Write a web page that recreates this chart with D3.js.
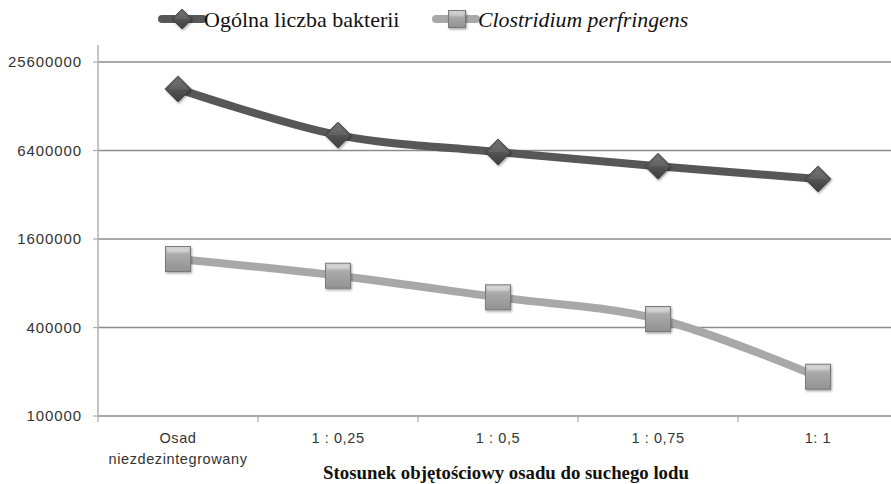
<!DOCTYPE html>
<html><head><meta charset="utf-8">
<script src="https://cdn.jsdelivr.net/npm/d3@7/dist/d3.min.js"></script>
<style>body{margin:0;background:#fff}svg{display:block}</style>
</head><body><svg id="c" width="891" height="484"></svg>
<script>
const categories = ["Osad\nniezdezintegrowany", "1 : 0,25", "1 : 0,5", "1 : 0,75", "1: 1"];
const totalBacteria = [16800000, 8150000, 6250000, 5000000, 4100000];
const clostridium = [1170000, 900000, 642000, 457000, 185000];
const yTicks = [100000, 400000, 1600000, 6400000, 25600000];
const seriesNames = ["Ogólna liczba bakterii", "Clostridium perfringens"];
const xTitle = "Stosunek objętościowy osadu do suchego lodu";

(function(){
const svg = d3.select("#c");
const defs = svg.append("defs");
const gS = defs.append("linearGradient").attr("id","gSq").attr("x1",0).attr("y1",0).attr("x2",0).attr("y2",1);
gS.append("stop").attr("offset","0").attr("stop-color","#d4d4d4");
gS.append("stop").attr("offset","0.35").attr("stop-color","#a9a9a9");
gS.append("stop").attr("offset","1").attr("stop-color","#929292");
const gD = defs.append("linearGradient").attr("id","gDi").attr("x1",0).attr("y1",0).attr("x2",0).attr("y2",1);
gD.append("stop").attr("offset","0").attr("stop-color","#6a6a6a");
gD.append("stop").attr("offset","0.5").attr("stop-color","#555");
gD.append("stop").attr("offset","1").attr("stop-color","#3e3e3e");
const f = defs.append("filter").attr("id","sh").attr("x","-30%").attr("y","-30%").attr("width","160%").attr("height","160%");
f.append("feDropShadow").attr("dx",1).attr("dy",1.5).attr("stdDeviation",1.2).attr("flood-color","#000").attr("flood-opacity",0.35);

const mLeft = 98, mRight = 898, mTop = 45, mBottom = 416;
const x = d3.scaleBand().domain(categories).range([mLeft, mRight]);
const y = d3.scaleLog().base(4).domain([100000, 25600000]).range([mBottom, 62]);
const cx = c => x(c) + x.bandwidth()/2;

// gridlines
svg.append("g").selectAll("line").data(yTicks).join("line")
  .attr("x1", mLeft).attr("x2", 891).attr("y1", d=>y(d)).attr("y2", d=>y(d))
  .attr("stroke", "#8c8c8c").attr("stroke-width", 1.3);
// y axis line and ticks
svg.append("line").attr("x1",mLeft).attr("x2",mLeft).attr("y1",mTop).attr("y2",mBottom)
  .attr("stroke","#b0b0b0").attr("stroke-width",1.5);
svg.append("g").selectAll("line").data(yTicks).join("line")
  .attr("x1", mLeft-5).attr("x2", mLeft).attr("y1", d=>y(d)).attr("y2", d=>y(d))
  .attr("stroke","#b0b0b0").attr("stroke-width",1.3);
svg.append("g").selectAll("text").data(yTicks).join("text")
  .attr("x", 82).attr("y", d=>y(d)+5).attr("text-anchor","end")
  .attr("font-family","Liberation Sans, Arial, sans-serif").attr("font-size",15)
  .attr("letter-spacing","0.9px").attr("fill","#333").text(d=>d3.format("d")(d));
// x axis ticks at band boundaries
const bounds = categories.map(c=>x(c)).concat([x.range()[1]]);
svg.append("g").selectAll("line").data(bounds).join("line")
  .attr("x1", d=>d).attr("x2", d=>d).attr("y1", mBottom).attr("y2", mBottom+6)
  .attr("stroke","#b0b0b0").attr("stroke-width",1.3);
// x labels
const xl = svg.append("g").selectAll("text").data(categories).join("text")
  .attr("x", d=>cx(d)).attr("y", 443).attr("text-anchor","middle")
  .attr("font-family","Liberation Sans, Arial, sans-serif").attr("font-size",14.5)
  .attr("letter-spacing","0.6px").attr("fill","#333");
xl.each(function(d){
  const lines = d.split("\n");
  d3.select(this).selectAll("tspan").data(lines).join("tspan")
    .attr("x", cx(d)).attr("dy",(l,i)=>i?21:0).text(l=>l);
});
// x title
svg.append("text").attr("x", 506).attr("y", 479).attr("text-anchor","middle")
  .attr("font-family","Liberation Serif, Times New Roman, serif").attr("font-weight","bold")
  .attr("font-size",18.8).attr("fill","#111").text(xTitle);

const line = d3.line().x((d,i)=>cx(categories[i])).y(d=>y(d)).curve(d3.curveCatmullRom.alpha(0.5));
svg.append("path").datum(clostridium).attr("d",line).attr("fill","none")
  .attr("stroke","#a8a8a8").attr("stroke-width",8).attr("stroke-linejoin","round");
svg.append("path").datum(totalBacteria).attr("d",line).attr("fill","none")
  .attr("stroke","#575757").attr("stroke-width",8).attr("stroke-linejoin","round");

function diamond(g, px, py, r){
  g.append("path").attr("d",`M${px},${py-r}L${px+r},${py}L${px},${py+r}L${px-r},${py}Z`)
   .attr("fill","url(#gDi)").attr("stroke","#3a3a3a").attr("stroke-width",0.8).attr("filter","url(#sh)");
  g.append("path").attr("d",`M${px},${py-r+2}L${px+r-3},${py}L${px-r+3},${py}Z`).attr("fill","#fff").attr("opacity",0.08);
}
function square(g, px, py, s){
  g.append("rect").attr("x",px-s/2).attr("y",py-s/2).attr("width",s).attr("height",s)
   .attr("fill","url(#gSq)").attr("stroke","#7a7a7a").attr("stroke-width",1).attr("filter","url(#sh)");
  g.append("rect").attr("x",px-s/2+2).attr("y",py-s/2+2).attr("width",s-4).attr("height",4)
   .attr("fill","#fff").attr("opacity",0.25);
}
const mk = svg.append("g");
clostridium.forEach((v,i)=>square(mk, cx(categories[i]), y(v), 25));
totalBacteria.forEach((v,i)=>diamond(mk, cx(categories[i]), y(v), 13));

// legend
const lg = svg.append("g");
lg.append("line").attr("x1",162).attr("x2",203).attr("y1",19).attr("y2",19)
  .attr("stroke","#575757").attr("stroke-width",8).attr("stroke-linecap","round");
diamond(lg, 182, 19, 10);
lg.append("text").attr("x",204).attr("y",27).attr("font-family","Liberation Serif, Times New Roman, serif")
  .attr("font-size",22).attr("fill","#111").text(seriesNames[0]);
lg.append("line").attr("x1",436).attr("x2",476).attr("y1",19).attr("y2",19)
  .attr("stroke","#a8a8a8").attr("stroke-width",8).attr("stroke-linecap","round");
square(lg, 457, 19, 17);
lg.append("text").attr("x",478).attr("y",27).attr("font-family","Liberation Serif, Times New Roman, serif")
  .attr("font-style","italic").attr("font-size",21.8).attr("fill","#111").text(seriesNames[1]);
})();
</script></body></html>
